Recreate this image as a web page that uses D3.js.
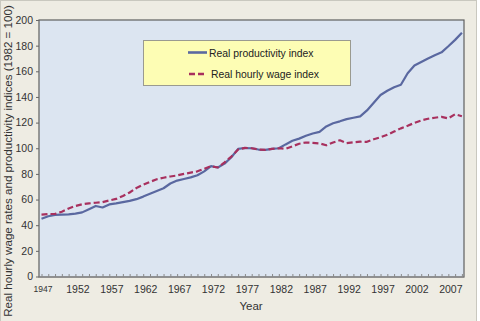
<!DOCTYPE html>
<html>
<head>
<meta charset="utf-8">
<script src="https://cdn.jsdelivr.net/npm/d3@7"></script>
<style>
  html, body { margin: 0; padding: 0; background: #ffffff; }
  svg { display: block; font-family: "Liberation Sans", Arial, sans-serif; }
</style>
</head>
<body>
<figure id="chart" style="margin:0"></figure>
<script>
// years 1947..2009
const years = d3.range(1947, 2010);

const productivity = [
  45, 47, 48, 48.3, 48.5, 49, 50, 52.5, 55, 53.8,
  56.2, 57, 58, 59, 60.3, 62.3, 64.5, 66.6, 68.8, 72.5,
  74.8, 76, 77.3, 79, 82, 86, 85, 88, 93, 99.5,
  100.2, 100, 99, 98.8, 99.5, 100, 103, 105.8, 107.5, 109.7,
  111.5, 112.8, 117, 119.5, 121, 122.7, 123.8, 124.8, 129.5, 135.5,
  141.5, 144.8, 147.5, 149.5, 158.5, 164.5, 167.3, 170, 172.5, 174.8,
  179.5, 184.5, 190
];

const wages = [
  48.3, 48.7, 48.8, 50.5, 53, 55, 56.3, 57, 57.5, 58,
  59.3, 60.5, 62.8, 65.5, 69, 71.5, 73.8, 75.8, 77, 78,
  78.8, 80, 81, 82, 84, 86, 85, 89, 93.5, 99,
  100.3, 100, 99, 98.8, 99.5, 100, 99.5, 101.5, 103.5, 104.5,
  104.2, 103.8, 102.3, 104.5, 106.2, 104, 104.6, 105.1, 105, 107,
  108.6, 110.5, 113, 115.5, 117.5, 119.8, 121.7, 123, 123.8, 124.5,
  123.3, 126.5, 125
];

const xTickYears = [1947, 1952, 1957, 1962, 1967, 1972, 1977, 1982, 1987, 1992, 1997, 2002, 2007];
const yTicks = [0, 20, 40, 60, 80, 100, 120, 140, 160, 180, 200];
const seriesNames = ["Real productivity index", "Real hourly wage index"];

const width = 480, height = 321;
const plot = { left: 39, top: 20, right: 464, bottom: 277 };

const svg = d3.select("figure#chart")
  .append("svg")
  .attr("width", width)
  .attr("height", height);

// outer panel
svg.append("rect")
  .attr("x", 0.5).attr("y", 0.5)
  .attr("width", 476).attr("height", 322)
  .attr("fill", "#eeece3")
  .attr("stroke", "#c9c8bf");

// plot area
svg.append("rect")
  .attr("x", plot.left).attr("y", plot.top)
  .attr("width", plot.right - plot.left)
  .attr("height", plot.bottom - plot.top)
  .attr("fill", "#dce5f1")
  .attr("stroke", "#5f5f5f")
  .attr("stroke-width", 1.2);

const x = d3.scaleLinear().domain([1947, 2009]).range([41.5, 461.9]);
const y = d3.scaleLinear().domain([0, 200]).range([276.5, 20]);

// y axis
const yAxis = svg.append("g")
  .attr("transform", `translate(${plot.left},0)`)
  .call(d3.axisLeft(y).tickValues(yTicks).tickSize(3).tickPadding(3));
yAxis.select(".domain").remove();
yAxis.selectAll(".tick line").attr("stroke", "#666");
yAxis.selectAll(".tick text")
  .attr("fill", "#333").style("font-size", "10.5px");

// x axis: yearly minor ticks pointing up
const xMinor = svg.append("g")
  .attr("transform", `translate(0,${plot.bottom})`)
  .call(d3.axisBottom(x).tickValues(years).tickSize(-3).tickFormat(""));
xMinor.select(".domain").attr("stroke", "#8a8a8a").attr("d", `M${plot.left},0H${plot.right}`);
xMinor.selectAll(".tick line").attr("stroke", "#8a8a8a");

const xAxis = svg.append("g")
  .attr("transform", `translate(0,${plot.bottom})`)
  .call(d3.axisBottom(x).tickValues(xTickYears).tickSize(0).tickPadding(9).tickFormat(d3.format("d")));
xAxis.select(".domain").remove();
xAxis.selectAll(".tick text")
  .attr("fill", "#333")
  .attr("dx", (d, i) => i === 0 ? 1 : 2)
  .style("font-size", (d, i) => i === 0 ? "8.5px" : "10.5px");

// axis titles
svg.append("text")
  .attr("x", 251).attr("y", 310)
  .attr("text-anchor", "middle")
  .attr("fill", "#333")
  .style("font-size", "11.5px")
  .text("Year");

svg.append("text")
  .attr("transform", "translate(12,161) rotate(-90)")
  .attr("text-anchor", "middle")
  .attr("fill", "#333")
  .style("font-size", "11.6px")
  .text("Real hourly wage rates and productivity indices (1982 = 100)");

// lines
const line = d3.line()
  .x((d, i) => x(years[i]))
  .y(d => y(d));

svg.append("path")
  .datum(productivity)
  .attr("fill", "none")
  .attr("stroke", "#5a68a0")
  .attr("stroke-width", 2.2)
  .attr("stroke-linejoin", "round")
  .attr("d", line);

svg.append("path")
  .datum(wages)
  .attr("fill", "none")
  .attr("stroke", "#a8305e")
  .attr("stroke-width", 2.2)
  .attr("stroke-dasharray", "6,3")
  .attr("stroke-linejoin", "round")
  .attr("d", line);

// legend
const legend = svg.append("g");
legend.append("rect")
  .attr("x", 143.5).attr("y", 40.5)
  .attr("width", 207).attr("height", 45)
  .attr("fill", "#fdfdb4")
  .attr("stroke", "#9a9a90");

const legendStyles = [
  { color: "#5a68a0", dash: null, x1: 188, ly: 52.5 },
  { color: "#a8305e", dash: "6,3", x1: 189, ly: 74 }
];
seriesNames.forEach((name, i) => {
  const s = legendStyles[i];
  legend.append("line")
    .attr("x1", s.x1).attr("x2", 207)
    .attr("y1", s.ly).attr("y2", s.ly)
    .attr("stroke", s.color)
    .attr("stroke-width", 2.6)
    .attr("stroke-dasharray", s.dash);
  legend.append("text")
    .attr("x", 209 + i * 2).attr("y", s.ly + 4)
    .attr("fill", "#222")
    .style("font-size", "10.4px")
    .text(name);
});
</script>
</body>
</html>
